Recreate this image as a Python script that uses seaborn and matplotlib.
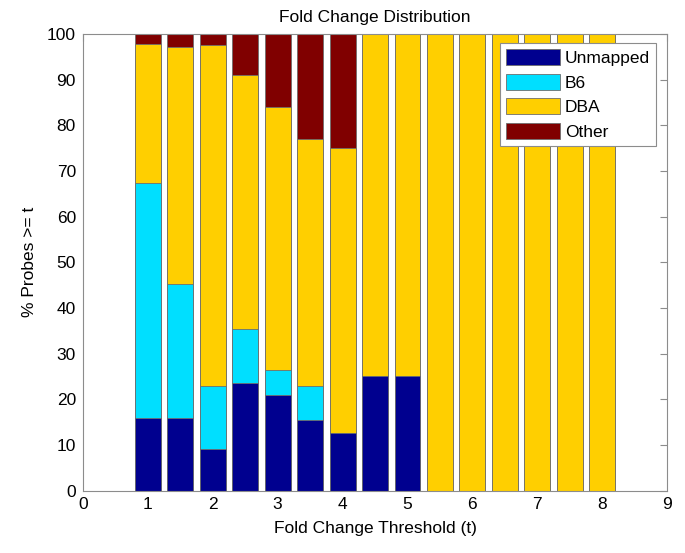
import numpy as np
import seaborn as sns
import matplotlib.pyplot as plt
from matplotlib.patches import Patch

# data
thresholds = [1, 1.5, 2, 2.5, 3, 3.5, 4, 4.5, 5, 5.5, 6, 6.5, 7, 7.5, 8]
unmapped = [15.9, 15.9, 9.0, 23.6, 21.0, 15.4, 12.5, 25, 25, 0, 0, 0, 0, 0, 0]
b6 = [51.5, 29.3, 13.8, 11.7, 5.3, 7.6, 0, 0, 0, 0, 0, 0, 0, 0, 0]
dba = [30.4, 52.0, 74.7, 55.8, 57.7, 54.1, 62.5, 75, 75, 100, 100, 100, 100, 100, 100]
other = [2.2, 2.8, 2.5, 8.9, 16.0, 22.9, 25, 0, 0, 0, 0, 0, 0, 0, 0]
labels = ["Unmapped", "B6", "DBA", "Other"]
colors = ["#00008f", "#00dfff", "#ffcf00", "#800000"]

sns.set_theme(style="white")
plt.rcParams['font.family'] = ['Liberation Sans', 'DejaVu Sans']
plt.rcParams['text.color'] = 'black'
plt.rcParams['axes.labelcolor'] = 'black'

fig = plt.figure(figsize=(6.85, 5.53), dpi=100)
ax = fig.add_axes([0.121, 0.113, 0.853, 0.8255])

# stacked bars: draw cumulative totals from the top layer down
layers = [unmapped, b6, dba, other]
cum = np.cumsum(np.array(layers, dtype=float), axis=0)
for i in range(3, -1, -1):
    sns.barplot(x=thresholds, y=cum[i], native_scale=True, orient="x",
                color=colors[i], saturation=1, errorbar=None,
                edgecolor="#6e6e6e", linewidth=0.6, ax=ax)

ax.set_xlim(0, 9)
ax.set_ylim(0, 100)
ax.set_xticks(range(0, 10))
ax.set_yticks(range(0, 101, 10))
ax.tick_params(direction="in", top=True, right=True, length=5, width=0.8,
               color="#8c8c8c", labelsize=12.5, labelcolor="black", pad=5)
for s in ax.spines.values():
    s.set_color("#8c8c8c")
    s.set_linewidth(0.8)

ax.set_xlabel("Fold Change Threshold (t)", fontsize=12.5, labelpad=6, color="black")
ax.set_ylabel("% Probes >= t", fontsize=12.5, labelpad=7, color="black")
ax.set_title("Fold Change Distribution", fontsize=12.5, pad=9, color="black")

handles = [Patch(facecolor=c, edgecolor="#6e6e6e", linewidth=0.6) for c in colors]
leg = ax.legend(handles, labels, loc="upper right", bbox_to_anchor=(0.981, 0.981),
                borderaxespad=0, fontsize=12.5, fancybox=False, framealpha=1,
                edgecolor="#8c8c8c", handlelength=3.1, handleheight=1.05,
                labelspacing=0.45, handletextpad=0.3, borderpad=0.35)
leg.get_frame().set_linewidth(0.8)
for t in leg.get_texts():
    t.set_color("black")

plt.savefig("out.png", dpi=100)
